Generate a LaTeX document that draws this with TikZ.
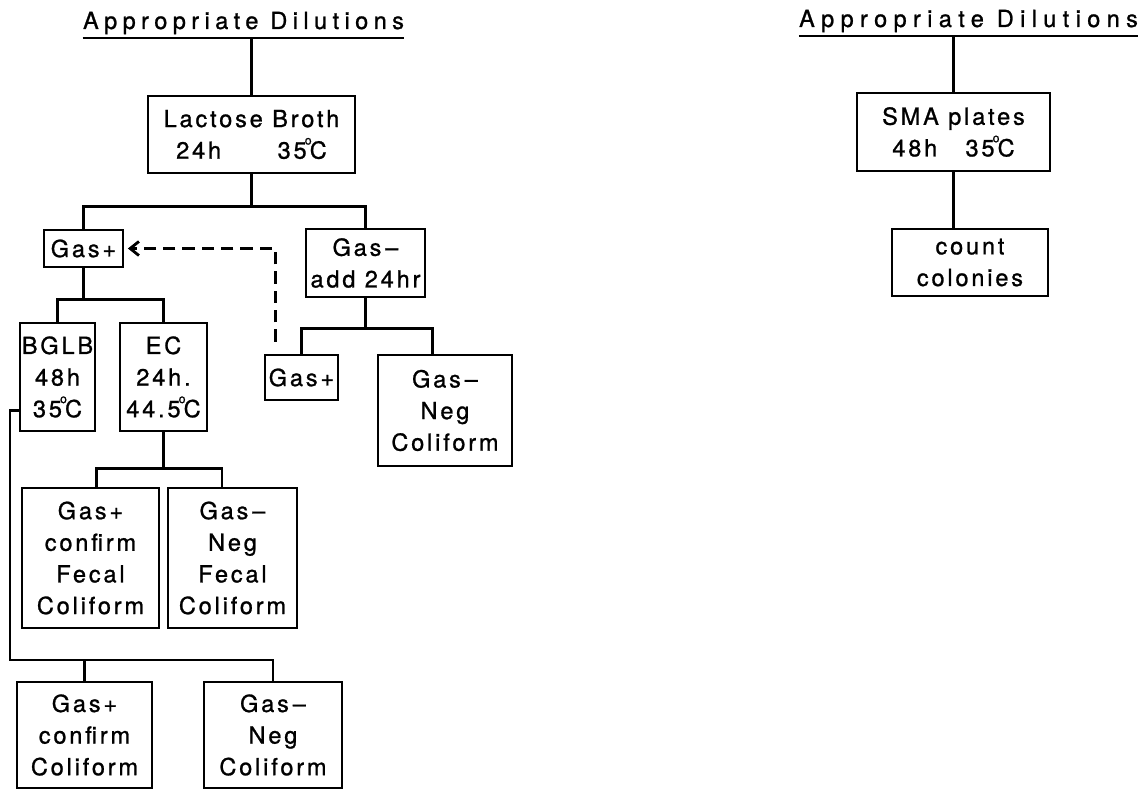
\documentclass[tikz,border=0pt]{standalone}
\usepackage{fontspec}
\setmainfont{TeX Gyre Heros}[LetterSpace=12,FakeBold=1]
\usetikzlibrary{arrows.meta}
\newcommand{\grad}{\kern-0.08em\raisebox{0.6em}{\scriptsize o}\kern-0.08em}
\begin{document}
\begin{tikzpicture}[x=0.02cm,y=-0.02cm,
    caja/.style={draw,line width=1.6pt,inner sep=0pt,align=center,
      font=\fontsize{13.4}{18}\selectfont},
    titulo/.style={anchor=south,inner xsep=0pt,inner ysep=2pt},
    linea/.style={line width=1.6pt}]
    \useasboundingbox (0,0) rectangle (1139,790);

    % titulos
    \node[titulo,minimum width=5.94cm,font=\fontsize{13.4}{18}\selectfont\addfontfeatures{LetterSpace=23}] (t1) at (243.5,38) {Appropriate Dilutions};
    \draw[linea] (t1.south west) -- (t1.south east);
    \node[titulo,minimum width=6.74cm,font=\fontsize{13.4}{18}\selectfont\addfontfeatures{LetterSpace=27}] (t2) at (968.5,36) {Appropriate Dilutions};
    \draw[linea] (t2.south west) -- (t2.south east);

    % rama izquierda
    \node[caja,minimum width=4.14cm,minimum height=1.54cm] (lb) at (251.5,134.5) {Lactose Broth\\24h\hspace{2.4em}35\grad C};
    \node[caja,minimum width=1.58cm,minimum height=0.74cm] (gp1) at (83.5,248.5) {Gas+};
    \node[caja,minimum width=2.38cm,minimum height=1.36cm] (gm1) at (365.5,263) {Gas\,--\\add 24hr};
    \node[caja,minimum width=1.5cm,minimum height=2.16cm] (bglb) at (57.5,377) {BGLB\\48h\\35\grad C};
    \node[caja,minimum width=1.74cm,minimum height=2.16cm] (ec) at (163.5,377) {EC\\24h.\\44.5\grad C};
    \node[caja,minimum width=1.46cm,minimum height=0.9cm] (gp2) at (301.5,377.5) {Gas+};
    \node[caja,minimum width=2.68cm,minimum height=2.22cm] (gm2) at (445,410.5) {Gas\,--\\Neg\\Coliform};
    \node[caja,minimum width=2.74cm,minimum height=2.8cm] (fp) at (90.5,558) {Gas+\\confirm\\Fecal\\Coliform};
    \node[caja,minimum width=2.58cm,minimum height=2.8cm] (fm) at (232.5,558) {Gas\,--\\Neg\\Fecal\\Coliform};
    \node[caja,minimum width=2.7cm,minimum height=2.12cm] (cp) at (84.5,735) {Gas+\\confirm\\Coliform};
    \node[caja,minimum width=2.76cm,minimum height=2.12cm] (cm) at (273,735) {Gas\,--\\Neg\\Coliform};

    \draw[linea] (t1.south -| lb.north) -- (lb.north);
    \draw[linea] (lb.south) -- ++(0,32) -| (gp1.north);
    \draw[linea] (lb.south) ++(0,32) -| (gm1.north);
    \draw[linea] (gp1.south) -- ++(0,31) -| (bglb.north);
    \draw[linea] (gp1.south) ++(0,31) -| (ec.north);
    \draw[linea] (gm1.south) -- ++(0,30) -| (gp2.north);
    \draw[linea] (gm1.south) ++(0,30) -| ([xshift=-7pt]gm2.north);
    \draw[linea] (ec.south) -- ++(0,36) -| ([xshift=3.5pt]fp.north);
    \draw[linea] (ec.south) ++(0,36) -| ([xshift=-6pt]fm.north);

    % BGLB hacia abajo
    \coordinate (bus) at (10,660);
    \draw[linea] ([yshift=-19pt]bglb.west) -| (bus) -| (cm.north);
    \draw[linea] (bus -| cp.north) -- (cp.north);

    % flecha punteada
    \draw[linea,dash pattern=on 7pt off 4pt,-{Straight Barb[length=5pt,width=8pt]}]
      ([xshift=6.8pt,yshift=6.8pt]gp2.north west) |- ([xshift=2pt]gp1.east);

    % rama derecha
    \node[caja,minimum width=3.86cm,minimum height=1.56cm] (sma) at (953.5,132) {SMA plates\\48h\hspace{1.2em}35\grad C};
    \node[caja,minimum width=3.12cm,minimum height=1.34cm] (cc) at (970,262.5) {count\\colonies};
    \draw[linea] (t2.south -| sma.north) -- (sma.north);
    \draw[linea] (sma.south) -- (sma.south |- cc.north);
  \end{tikzpicture}
\end{document}
